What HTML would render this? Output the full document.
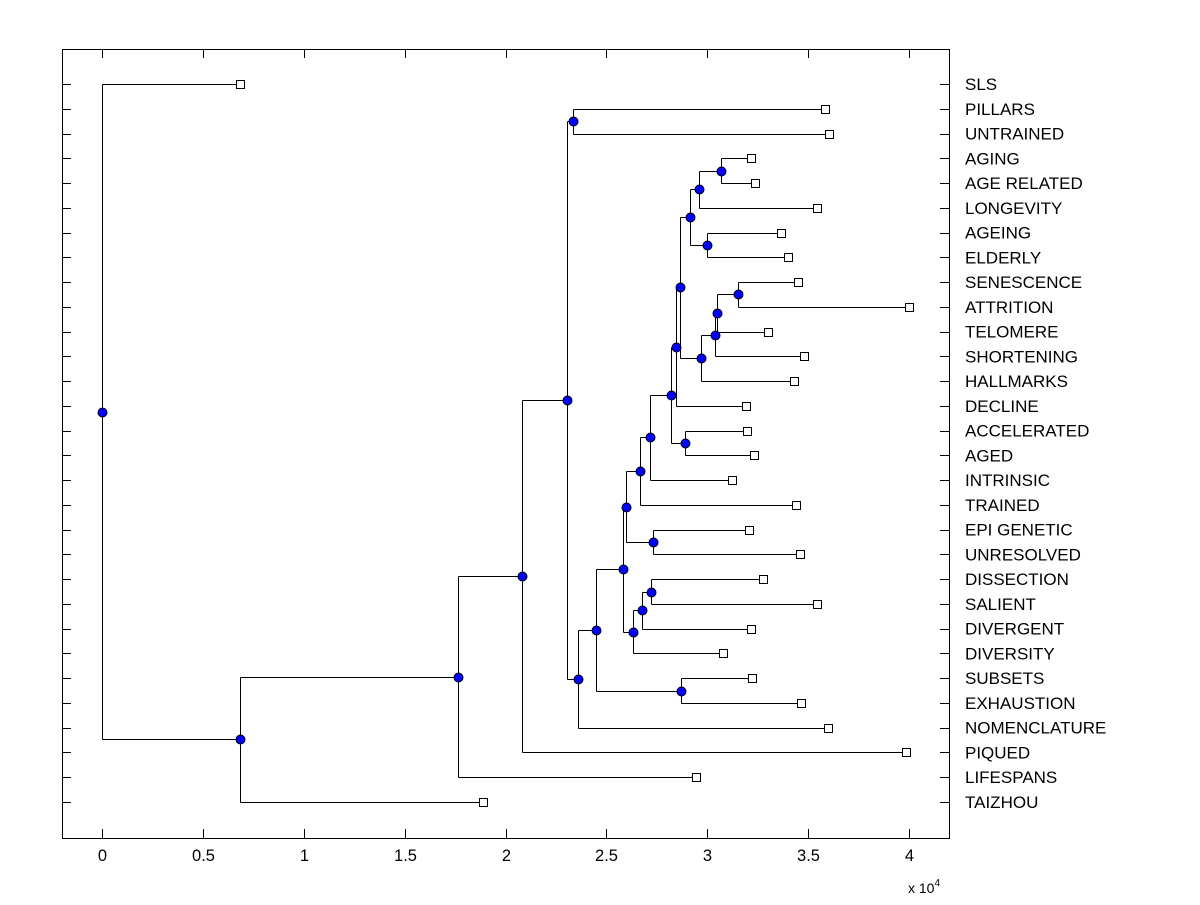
<!DOCTYPE html>
<html><head><meta charset="utf-8"><style>
html,body{margin:0;padding:0;background:#fff;}
svg text{font-family:"Liberation Sans",Arial,sans-serif;fill:#000;}
</style></head><body>
<svg id="chart" width="1200" height="900" viewBox="0 0 1200 900" xmlns="http://www.w3.org/2000/svg">
<rect x="0" y="0" width="1200" height="900" fill="#fff"/>
<g id="plot"></g>
</svg>
<script>
// Leaf labels (top to bottom)
const leafLabels = ["SLS","PILLARS","UNTRAINED","AGING","AGE RELATED","LONGEVITY","AGEING","ELDERLY","SENESCENCE","ATTRITION","TELOMERE","SHORTENING","HALLMARKS","DECLINE","ACCELERATED","AGED","INTRINSIC","TRAINED","EPI GENETIC","UNRESOLVED","DISSECTION","SALIENT","DIVERGENT","DIVERSITY","SUBSETS","EXHAUSTION","NOMENCLATURE","PIQUED","LIFESPANS","TAIZHOU"];
// Leaf end values (x 10^4)
const leafValues = [0.685,3.583,3.603,3.216,3.236,3.543,3.365,3.400,3.449,4.000,3.300,3.479,3.429,3.191,3.196,3.231,3.122,3.439,3.206,3.459,3.275,3.543,3.216,3.077,3.221,3.464,3.598,3.985,2.943,1.886];
// Internal node names, children and heights (x 10^4)
const nodeNames = ["AB","Z","AA","U","Y","X","W","V","T","R","S","Q","P","N","O","J","M","L","K","H","I","G","F","E","D","C","B","A","root"];
const nodeChildren = [
 ["AGING","AGE RELATED"],["AB","LONGEVITY"],["AGEING","ELDERLY"],["Z","AA"],
 ["SENESCENCE","ATTRITION"],["Y","TELOMERE"],["X","SHORTENING"],["W","HALLMARKS"],["U","V"],
 ["T","DECLINE"],["ACCELERATED","AGED"],["R","S"],["Q","INTRINSIC"],["P","TRAINED"],
 ["EPI GENETIC","UNRESOLVED"],["N","O"],["DISSECTION","SALIENT"],["M","DIVERGENT"],["L","DIVERSITY"],
 ["J","K"],["SUBSETS","EXHAUSTION"],["H","I"],["G","NOMENCLATURE"],["PILLARS","UNTRAINED"],
 ["E","F"],["D","PIQUED"],["C","LIFESPANS"],["B","TAIZHOU"],["SLS","A"]];
const nodeHeights = [3.067,2.958,3.002,2.913,3.151,3.047,3.037,2.968,2.864,2.844,2.888,2.819,2.715,2.665,2.730,2.600,2.720,2.675,2.630,2.581,2.869,2.447,2.362,2.337,2.303,2.084,1.762,0.685,0];
const xTicks = [0,0.5,1,1.5,2,2.5,3,3.5,4];
const xTickLabels = ["0","0.5","1","1.5","2","2.5","3","3.5","4"];

const NS="http://www.w3.org/2000/svg";
const g=document.getElementById('plot');
const L=62,R=949,T=49,B=838, xmin=-0.2,xmax=4.2;
const xs=v=>L+(v-xmin)/(xmax-xmin)*(R-L);
const y0=84, y1=802;
const ys=i=>y0+i*(y1-y0)/(leafLabels.length-1);
function el(tag,attrs,parent){const e=document.createElementNS(NS,tag);for(const k in attrs)e.setAttribute(k,attrs[k]);(parent||g).appendChild(e);return e;}

const box=el('rect',{x:L+0.5,y:T+0.5,width:R-L,height:B-T,fill:'none',stroke:'#000','stroke-width':1});



const pos={};
leafLabels.forEach((n,i)=>{pos[n]={x:leafValues[i],y:ys(i)};});
nodeNames.forEach((n,i)=>{const c=nodeChildren[i];pos[n]={x:nodeHeights[i],y:(pos[c[0]].y+pos[c[1]].y)/2};});

nodeNames.forEach((n,i)=>{
  const p=pos[n];const px=Math.round(xs(p.x))+0.5;
  const c=nodeChildren[i];
  const a=pos[c[0]],b=pos[c[1]];
  const v=el('line',{x1:px,x2:px,y1:Math.round(a.y)+0.5,y2:Math.round(b.y)+0.5,stroke:'#000','stroke-width':1});
  
  
  [a,b].forEach(ch=>{
    const h=el('line',{x1:px,x2:Math.round(xs(ch.x))+0.5,y1:Math.round(ch.y)+0.5,y2:Math.round(ch.y)+0.5,stroke:'#000','stroke-width':1});
    
    
  });
});
nodeNames.forEach(n=>{
  const p=pos[n];
  const c=el('circle',{cx:Math.round(xs(p.x))+0.5,cy:Math.round(p.y)+0.5,r:4.5,fill:'#0000ff',stroke:'#000','stroke-width':1});
  
  
});
leafLabels.forEach((n,i)=>{
  const p=pos[n];
  const s=el('rect',{x:Math.round(xs(p.x))-3.5,y:Math.round(p.y)-3.5,width:8,height:8,fill:'#fff',stroke:'#000','stroke-width':1});
  
  
  const yy=Math.round(p.y)+0.5;
  const t1=el('line',{x1:L,x2:L+9,y1:yy,y2:yy,stroke:'#000'});
  
  
  const t2=el('line',{x1:R-9,x2:R,y1:yy,y2:yy,stroke:'#000'});
  
  
  const lb=el('text',{x:965,y:p.y+6,'font-size':17});
  lb.textContent=n;
  
  
});
xTicks.forEach((v,i)=>{
  const xx=Math.round(xs(v))+0.5;
  const t=el('line',{x1:xx,x2:xx,y1:B,y2:B-9,stroke:'#000'});
  
  
  const t2=el('line',{x1:xx,x2:xx,y1:T,y2:T+9,stroke:'#000'});
  
  
  const lb=el('text',{x:xx,y:861,'font-size':16.5,'text-anchor':'middle'});
  lb.textContent=xTickLabels[i];
  
  
});
const ex=el('text',{x:908,y:893,'font-size':14});
ex.innerHTML='x 10<tspan dy="-7" font-size="10">4</tspan>';


</script>
</body></html>
